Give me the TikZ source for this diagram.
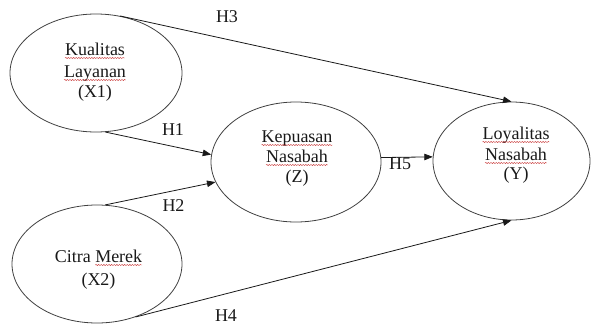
\documentclass[tikz,border=0pt]{standalone}
\usepackage{fontspec}
\setmainfont{Liberation Serif}
\newfontfamily\tnr{Liberation Serif}
\usetikzlibrary{arrows.meta,decorations.pathmorphing,shapes.geometric}
\definecolor{spellred}{RGB}{205,70,70}
\tikzset{
  ell/.style={draw=black!75, line width=0.8pt, ellipse, inner sep=0pt},
  txt/.style={inner sep=0pt, outer sep=0pt, font=\tnr\fontsize{18}{21}\selectfont, text=black!90},
  arr/.style={draw=black!90, line width=0.8pt, -{Triangle[length=8.5pt,width=6.5pt]}},
  wave/.style={draw=spellred, line width=0.45pt, decorate, decoration={snake, segment length=2.6pt, amplitude=0.6pt}},
}
\begin{document}
\begin{tikzpicture}[x=1pt,y=-1pt]
\useasboundingbox (0,0) rectangle (592,324);
% ellipses
\node[ell, minimum width=172pt, minimum height=118pt] (x1) at (96,73) {};
\node[ell, minimum width=170pt, minimum height=118pt] (x2) at (97,264) {};
\node[ell, minimum width=170pt, minimum height=120pt] (z) at (296,162) {};
\node[ell, minimum width=157pt, minimum height=118pt] (y) at (511.5,161) {};
% texts
\node[txt, anchor=base] (k1) at (95,55) {Kualitas};
\node[txt, anchor=base] (l1) at (95,77) {Layanan};
\node[txt, anchor=base] (x1t) at (95,97) {(X1)};
\node[txt, anchor=base east] (ct) at (90.75,262) {Citra};
\node[txt, anchor=base west] (mk) at ([xshift=4.5pt]ct.base east) {Merek};
\node[txt, anchor=base] (x2t) at (98.5,285) {(X2)};
\node[txt, anchor=base] (kp) at (297,142) {Kepuasan};
\node[txt, anchor=base] (ns1) at (297,162) {Nasabah};
\node[txt, anchor=base] (zt) at (297,182) {(Z)};
\node[txt, anchor=base] (lo) at (516,139) {Loyalitas};
\node[txt, anchor=base] (ns2) at (516,160) {Nasabah};
\node[txt, anchor=base] (yt) at (516,179) {(Y)};
% spell-check underlines
\foreach \w in {k1,l1,mk,kp,ns1,lo,ns2}{
  \draw[wave] ([yshift=-3pt]\w.base west) -- ([yshift=-3pt]\w.base east);
}
% connectors
\draw[arr] (x1.67.5) -- (y.90);
\draw[arr] (x1.-81) -- (z.175);
\draw[arr] (x2.82) -- (z.194);
\draw[arr] (x2.-54) -- (y.-90);
\draw[arr] (z.3.4) -- (y.177.1);
% labels
\node[txt, anchor=base] (h3) at (227,23) {H3};
\node[txt, anchor=base] (h1) at (173,135) {H1};
\node[txt, anchor=base] (h2) at (173.5,211) {H2};
\node[txt, anchor=base] (h4) at (226,321) {H4};
\node[txt, anchor=base] (h5) at (400,169) {H5};
\end{tikzpicture}
\end{document}
